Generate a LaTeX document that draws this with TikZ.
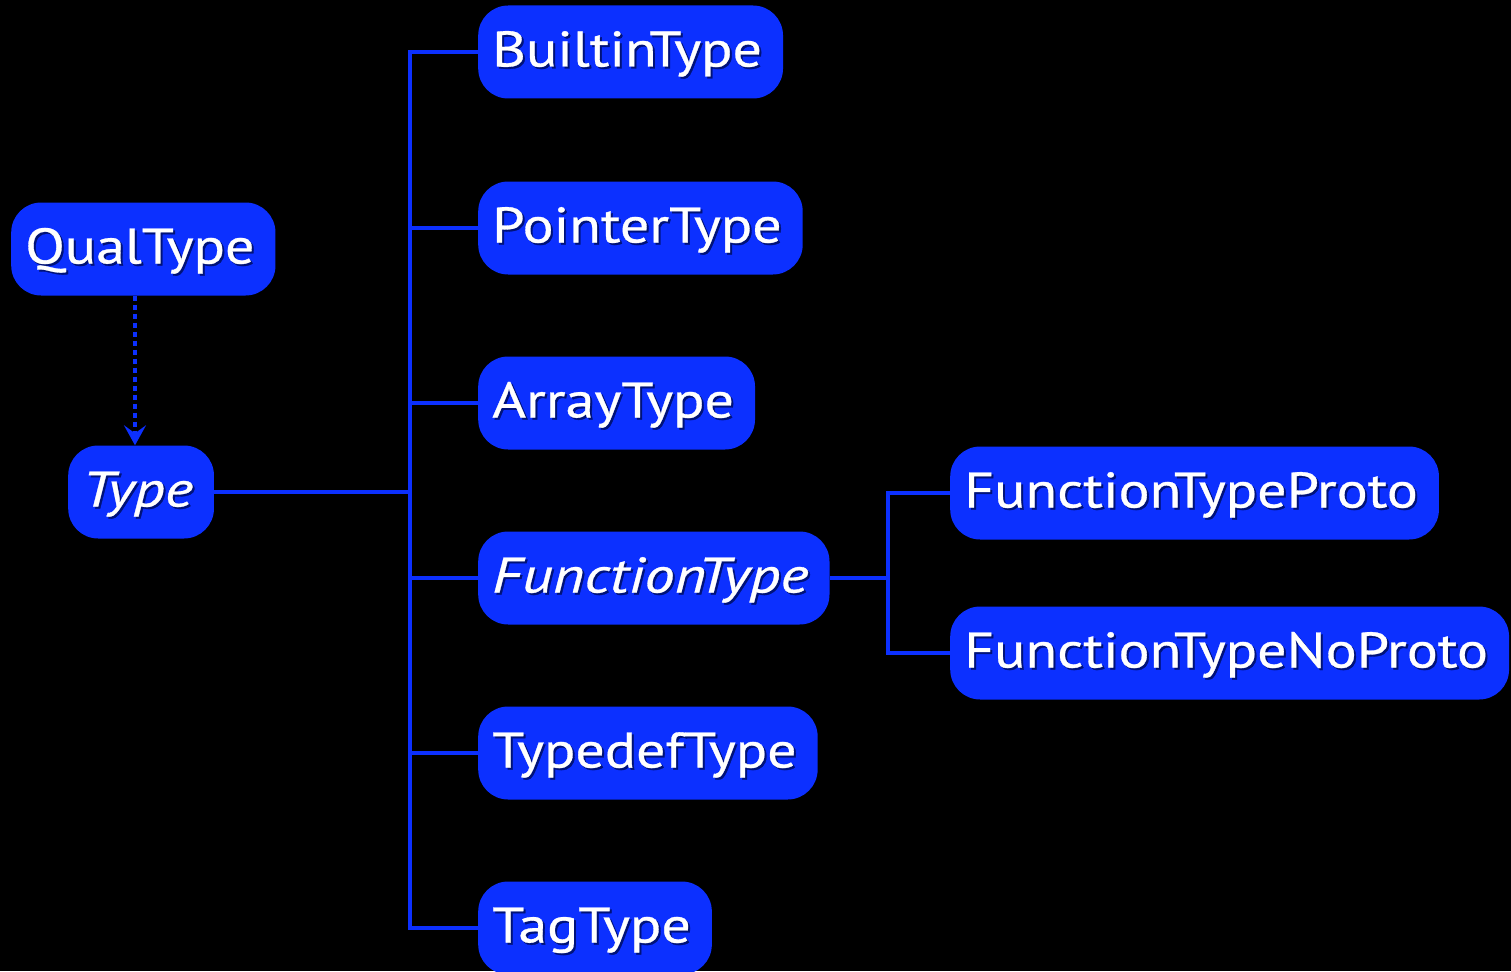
\documentclass[tikz,border=0pt]{standalone}
\usepackage{fontspec}
\setmainfont{PT Sans}[FakeStretch=1.16, FakeBold=0.6,
  ItalicFeatures={FakeStretch=1.21}]
\usetikzlibrary{arrows.meta, positioning}

\definecolor{boxblue}{RGB}{12,48,255}
\definecolor{shadeblue}{RGB}{0,18,120}

% white label with a soft drop shade
\newcommand{\shaded}[1]{\makebox[0pt][l]{\kern2pt\raisebox{-2pt}{\color{shadeblue}#1}}#1\hspace*{7pt}}

\begin{document}
\begin{tikzpicture}[
  x=1pt, y=-1pt,
  every node/.style={align=left},
  typebox/.style={rectangle, rounded corners=30pt, fill=boxblue, text=white,
    minimum height=93pt, inner xsep=14pt, text height=40pt, text depth=11pt,
    anchor=west, font=\fontsize{50}{60}\selectfont},
  link/.style={draw=boxblue, line width=4pt},
  qualarrow/.style={draw=boxblue, line width=4pt, dash pattern=on 5pt off 4pt,
    -{Stealth[length=20pt, width=22pt, inset=8pt]}}
]

% Background
\useasboundingbox[fill=black] (0,0) rectangle (1511,971);

% Root types
\node[typebox] (qualtype) at (11,249) {\shaded{QualType}};
\node[typebox] (type) at (68,492) {\shaded{\itshape Type}};

% Subclasses of Type
\node[typebox] (builtin) at (478,52) {\shaded{BuiltinType}};
\node[typebox] (pointer) at (478,228) {\shaded{PointerType}};
\node[typebox] (array) at (478,403) {\shaded{ArrayType}};
\node[typebox] (function) at (478,578) {\shaded{\itshape FunctionType}};
\node[typebox] (typedef) at (478,753) {\shaded{TypedefType}};
\node[typebox] (tag) at (478,928) {\shaded{TagType}};

% Subclasses of FunctionType
\node[typebox] (proto) at (950,493) {\shaded{FunctionTypeProto}};
\node[typebox] (noproto) at (950,653) {\shaded{FunctionTypeNoProto}};

% Tree lines
\coordinate (trunk) at (410,492);
\coordinate (fbranch) at (888,578);

\draw[link] (type.east) -- (trunk);
\foreach \n in {builtin, pointer, array, function, typedef, tag}
  \draw[link] (trunk) |- (\n.west);

\draw[link] (function.east) -- (fbranch);
\foreach \n in {proto, noproto}
  \draw[link] (fbranch) |- (\n.west);

% QualType wraps a Type
\draw[qualarrow] (qualtype.south -| 135,0) -- (type.north -| 135,0);

\end{tikzpicture}
\end{document}
